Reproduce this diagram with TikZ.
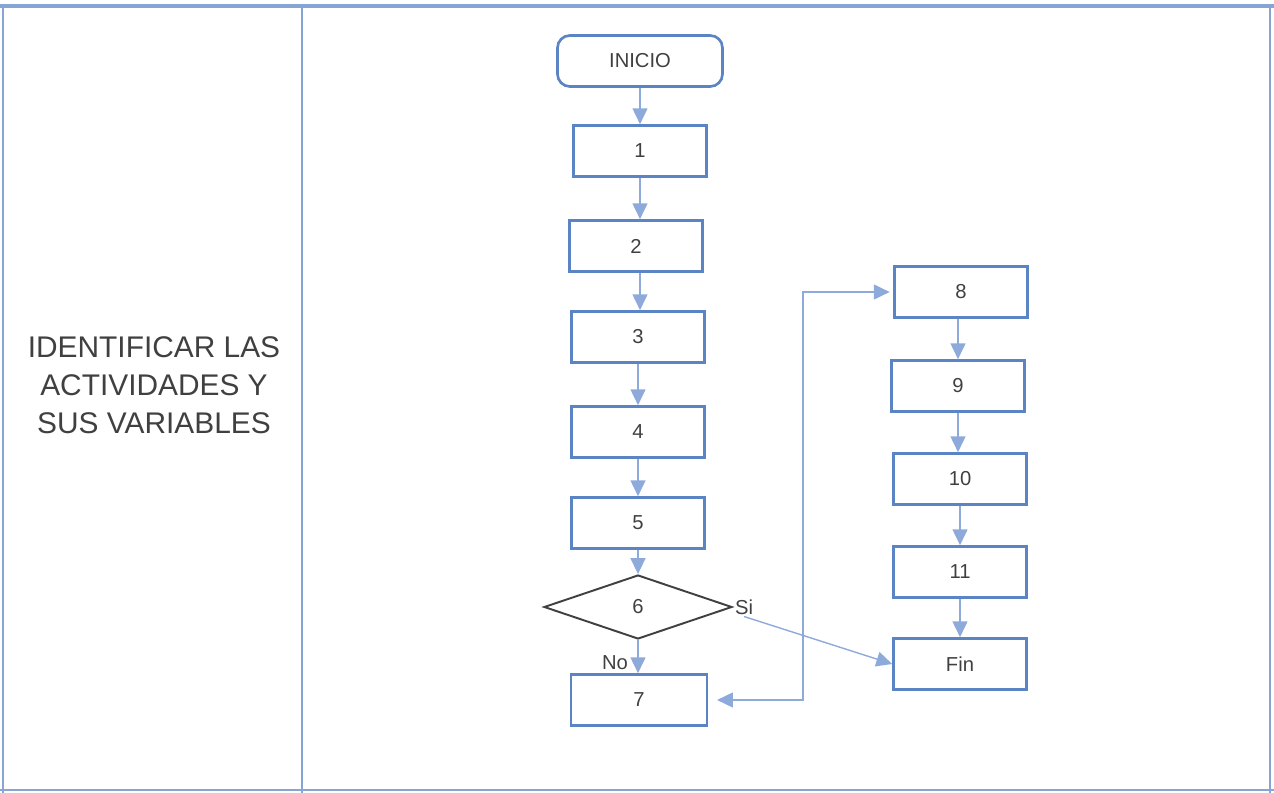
\documentclass[tikz,border=0pt]{standalone}
\usepackage{fontspec}
\setmainfont{Liberation Sans}
\usetikzlibrary{shapes.geometric,arrows.meta}
\definecolor{boxblue}{HTML}{5B84C4}
\definecolor{flowblue}{HTML}{8EAADB}
\definecolor{frameblue}{HTML}{86A4D4}
\definecolor{inkgray}{HTML}{404040}

\begin{document}
\begin{tikzpicture}[x=0.02cm,y=-0.02cm,
		activity/.style={draw=boxblue,line width=1.5pt,minimum width=2.66cm,minimum height=1.02cm,text=inkgray,font=\fontsize{11.5}{13}\selectfont},
		terminal/.style={activity,rounded corners=7pt,minimum width=3.3cm},
		decision/.style={diamond,draw=inkgray,line width=1.1pt,aspect=2.94,minimum width=3.76cm,minimum height=1.28cm,inner sep=0pt,text=inkgray,font=\fontsize{11.5}{13}\selectfont},
		flow/.style={draw=flowblue,line width=0.8pt,-{Triangle[width=8.5pt,length=9pt]}},
		tag/.style={text=inkgray,font=\fontsize{11.5}{13}\selectfont,inner sep=1pt}]
	\useasboundingbox (0,0) rectangle (1274,793);
	% marco
	\draw[frameblue,line width=2pt] (0,6) -- (1274,6);
	\draw[frameblue,line width=1.2pt] (3,6) -- (3,793) (1270,6) -- (1270,793) (0,790) -- (1274,790);
	\draw[frameblue,line width=1.2pt] (302,6) -- (302,793);
	\node[align=center,text=inkgray,font=\fontsize{17}{21.5}\selectfont] (titulo) at (154,385) {IDENTIFICAR LAS\\ACTIVIDADES Y\\SUS VARIABLES};
	% diagrama
	\node[terminal] (inicio) at (640,61) {INICIO};
	\node[activity] (a1) at (640,151) {1};
	\node[activity] (a2) at (636,246) {2};
	\node[activity] (a3) at (638,337) {3};
	\node[activity] (a4) at (638,432) {4};
	\node[activity] (a5) at (638,523) {5};
	\node[decision] (a6) at (638,607) {6};
	\node[activity,minimum width=2.72cm] (a7) at (639,700) {7};
	\node[activity] (a8) at (961,292) {8};
	\node[activity] (a9) at (958,386) {9};
	\node[activity] (a10) at (960,479) {10};
	\node[activity] (a11) at (960,572) {11};
	\node[activity] (fin) at (960,664) {Fin};
	\node[tag,anchor=west] (si) at (a6.east) {Si};
	\node[tag] (no) at (615,663) {No};
	\coordinate (retorno) at (803,700);
	\draw[flow] (inicio) -- (a1);
	\draw[flow] (a1) -- (a2.north-|a1);
	\draw[flow] (a2.south-|a1) -- (a3.north-|a1);
	\draw[flow] (a3) -- (a4);
	\draw[flow] (a4) -- (a5);
	\draw[flow] (a5) -- (a6);
	\draw[flow] (a6) -- (a7.north-|a6);
	\draw[flow] (si.south) -- (fin.west);
	\draw[flow,{Triangle[width=8.5pt,length=9pt]}-{Triangle[width=8.5pt,length=9pt]},shorten <=5pt,shorten >=2pt] (a7.east) -- (retorno) |- (a8.west);
	\draw[flow] (a8.south-|a9) -- (a9);
	\draw[flow] (a9) -- (a10.north-|a9);
	\draw[flow] (a10) -- (a11);
	\draw[flow] (a11) -- (fin);
\end{tikzpicture}
\end{document}
